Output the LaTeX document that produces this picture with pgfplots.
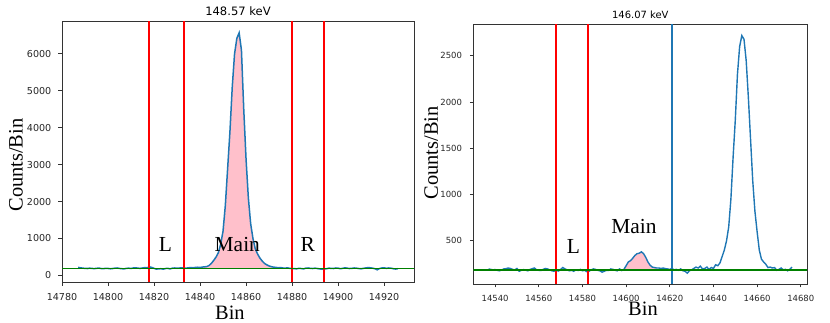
\documentclass[border=0pt]{standalone}
\usepackage{fontspec}
\setmainfont{Liberation Serif}
\newfontfamily\dvs{DejaVu Sans}
\usepackage{pgfplots}
\usepackage{pgfplotstable}
\pgfplotsset{compat=1.18}
\definecolor{mplblue}{HTML}{1F77B4}
\definecolor{mplred}{HTML}{FF0000}
\definecolor{mplgreen}{HTML}{008000}
\definecolor{mplpink}{HTML}{FFC0CB}

\pgfplotstableread{
x y
14787 215
14788 205
14789 195
14790 190
14791 185
14792 195
14793 188
14794 182
14795 190
14796 198
14797 185
14798 180
14799 192
14800 188
14801 178
14802 185
14803 195
14804 200
14805 188
14806 180
14807 176
14808 190
14809 195
14810 187
14811 200
14812 205
14813 195
14814 190
14815 200
14816 210
14817 205
14818 230
14819 215
14820 190
14821 170
14822 175
14823 180
14824 168
14825 185
14826 190
14827 175
14828 195
14829 200
14830 192
14831 198
14832 205
14833 200
14834 195
14835 205
14836 210
14837 205
14838 215
14839 220
14840 212
14841 225
14842 230
14843 240
14844 270
14845 330
14846 410
14847 500
14848 620
14849 850
14850 1200
14851 1900
14852 2900
14853 3900
14854 5100
14855 6000
14856 6420
14857 6570
14858 6100
14859 4500
14860 3150
14861 2100
14862 1400
14863 1000
14864 720
14865 580
14866 470
14867 390
14868 325
14869 285
14870 255
14871 235
14872 222
14873 215
14874 205
14875 210
14876 200
14877 195
14878 205
14879 190
14880 185
14881 180
14882 178
14883 190
14884 185
14885 175
14886 195
14887 200
14888 190
14889 185
14890 195
14891 185
14892 175
14893 165
14894 170
14895 180
14896 195
14897 190
14898 185
14899 200
14900 195
14901 180
14902 190
14903 205
14904 195
14905 185
14906 190
14907 200
14908 195
14909 185
14910 178
14911 190
14912 200
14913 210
14914 205
14915 195
14916 180
14917 150
14918 185
14919 200
14920 205
14921 190
14922 200
14923 195
14924 180
14925 170
14926 180
}\specA

\pgfplotstableread{
x y
14537 195
14538 190
14539 185
14540 188
14541 180
14542 175
14543 185
14544 195
14545 198
14546 205
14547 200
14548 190
14549 185
14550 200
14551 170
14552 180
14553 188
14554 182
14555 175
14556 190
14557 198
14558 205
14559 185
14560 180
14561 178
14562 190
14563 200
14564 195
14565 185
14566 175
14567 170
14568 180
14569 172
14570 190
14571 210
14572 195
14573 185
14574 175
14575 180
14576 170
14577 185
14578 178
14579 190
14580 175
14581 180
14582 165
14583 170
14584 185
14585 195
14586 190
14587 180
14588 175
14589 160
14590 170
14591 180
14592 178
14593 195
14594 190
14595 180
14596 175
14597 195
14598 178
14599 190
14600 230
14601 270
14602 285
14603 310
14604 340
14605 360
14606 365
14607 380
14608 360
14609 320
14610 270
14611 235
14612 215
14613 210
14614 205
14615 205
14616 200
14617 205
14618 198
14619 195
14620 190
14621 200
14622 185
14623 190
14624 180
14625 195
14626 175
14627 170
14628 150
14629 175
14630 185
14631 200
14632 215
14633 205
14634 225
14635 195
14636 200
14637 215
14638 190
14639 210
14640 200
14641 240
14642 230
14643 260
14644 330
14645 400
14646 500
14647 650
14648 950
14649 1400
14650 1800
14651 2300
14652 2600
14653 2720
14654 2680
14655 2450
14656 2050
14657 1600
14658 1150
14659 820
14660 600
14661 400
14662 300
14663 270
14664 245
14665 210
14666 215
14667 205
14668 210
14669 180
14670 190
14671 205
14672 185
14673 190
14674 175
14675 190
14676 215
}\specB

\pgfplotsset{
  spec/.style={
    scale only axis,
    axis line style={black!80, line width=0.8bp},
    tick align=outside, xtick pos=bottom, ytick pos=left,
    major tick length=3.5bp,
    tick style={black!80, line width=0.8bp},
    scaled ticks=false,
    every axis title shift=0pt,
    /pgf/number format/1000 sep={},
    /pgf/number format/assume math mode=true,
  },
  vline/.style={mplred, line width=1.7bp, line cap=butt},
}

\newcommand{\lab}{\fontsize{20.5}{24}\selectfont}
\newcommand{\reg}{\fontsize{21.5}{24}\selectfont}

\begin{document}
\begin{tikzpicture}
\useasboundingbox (0,0) rectangle (830bp,323bp);

% ---------------- left panel ----------------
\begin{axis}[spec,
  at={(62bp,41bp)}, anchor=south west,
  width=352bp, height=261bp,
  xmin=14780, xmax=14933, ymin=-180, ymax=6890,
  xtick={14780,14800,14820,14840,14860,14880,14900,14920},
  xticklabels={14780,14800,14820,14840,14860,14880,14900,14920},
  ytick={0,1000,2000,3000,4000,5000,6000},
  yticklabels={0,1000,2000,3000,4000,5000,6000},
  ticklabel style={font=\dvs\fontsize{9.6}{11}\selectfont, text=black!85},
  xticklabel style={anchor=base, inner sep=0pt, yshift=-14.7bp},
  yticklabel style={anchor=east, inner sep=0pt, xshift=-7bp},
  title={148.57 keV},
  title style={at={(axis description cs:0.5,1)}, anchor=base, inner sep=0pt, yshift=5.3bp, font=\dvs\fontsize{11.6}{13}\selectfont},
  xlabel={Bin},
  xlabel style={at={(axis description cs:0.477,0)}, anchor=base, inner sep=0pt, yshift=-37bp, font=\lab},
  ylabel={Counts/Bin},
  ylabel style={at={(axis description cs:-0.1307,0.448)}, anchor=center, inner sep=0pt, font=\lab},
]
\addplot[fill=mplpink, draw=none, forget plot] table[x=x,y=y, restrict x to domain=14833:14880] {\specA} -- (axis cs:14880,190) -- (axis cs:14833,190) -- cycle;
\addplot[mplblue, line width=1.5bp] table[x=x,y=y] {\specA};
\addplot[vline] coordinates {(14817.8,-180) (14817.8,6890)};
\addplot[vline] coordinates {(14833,-180) (14833,6890)};
\addplot[vline] coordinates {(14880,-180) (14880,6890)};
\addplot[vline] coordinates {(14894,-180) (14894,6890)};
\addplot[mplgreen, line width=1.6bp] coordinates {(14780,190) (14933,190)};
\node[anchor=base, inner sep=0pt, font=\reg] at (axis cs:14824.9,640) {L};
\node[anchor=base, inner sep=0pt, font=\reg] at (axis cs:14856.2,640) {Main};
\node[anchor=base, inner sep=0pt, font=\reg] at (axis cs:14886.8,640) {R};
\end{axis}

% ---------------- right panel ----------------
\begin{axis}[spec,
  at={(473.3bp,39bp)}, anchor=south west,
  width=334bp, height=260bp,
  xmin=14530, xmax=14683, ymin=32, ymax=2845,
  xtick={14540,14560,14580,14600,14620,14640,14660,14680},
  xticklabels={14540,14560,14580,14600,14620,14640,14660,14680},
  ytick={500,1000,1500,2000,2500},
  yticklabels={500,1000,1500,2000,2500},
  ticklabel style={font=\dvs\fontsize{8.5}{10}\selectfont, text=black!85},
  xticklabel style={anchor=base, inner sep=0pt, yshift=-13.7bp},
  yticklabel style={anchor=east, inner sep=0pt, xshift=-7.6bp},
  title={146.07 keV},
  title style={at={(axis description cs:0.5,1)}, anchor=base, inner sep=0pt, yshift=5.7bp, font=\dvs\fontsize{10}{12}\selectfont},
  xlabel={Bin},
  xlabel style={at={(axis description cs:0.508,0)}, anchor=base, inner sep=0pt, yshift=-31bp, font=\lab},
  ylabel={Counts/Bin},
  ylabel style={at={(axis description cs:-0.1257,0.504)}, anchor=center, inner sep=0pt, font=\lab},
]
\addplot[fill=mplpink, draw=none, forget plot] table[x=x,y=y, restrict x to domain=14599:14614] {\specB} -- (axis cs:14614,183) -- (axis cs:14599,183) -- cycle;
\addplot[mplblue, line width=1.4bp] table[x=x,y=y] {\specB};
\addplot[vline] coordinates {(14568,32) (14568,2845)};
\addplot[vline] coordinates {(14582.5,32) (14582.5,2845)};
\addplot[mplblue, line width=1.5bp] coordinates {(14621,32) (14621,2845)};
\addplot[mplgreen, line width=1.6bp] coordinates {(14530,183) (14683,183)};
\node[anchor=base, inner sep=0pt, font=\reg] at (axis cs:14575.9,363) {L};
\node[anchor=base, inner sep=0pt, font=\reg] at (axis cs:14603.6,579) {Main};
\end{axis}
\end{tikzpicture}
\end{document}
